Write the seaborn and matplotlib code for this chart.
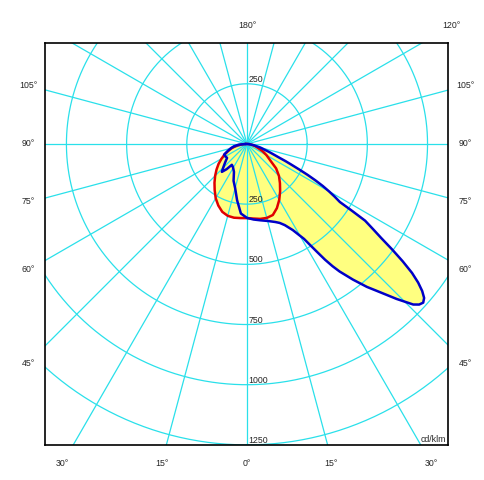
import numpy as np
import pandas as pd
import matplotlib
matplotlib.use("Agg")
import matplotlib.pyplot as plt
import seaborn as sns

# gamma angle (deg, 0 = straight down, + = right) and intensity in cd/klm
red_angles = [-90, -85, -80, -75, -70, -65, -60, -55, -50, -45, -40, -35, -30, -25, -20, -15, -10, -5,
              0, 5, 10, 15, 20, 25, 30, 35, 40, 45, 50, 55, 60, 65, 70, 75, 80, 85, 90]
red_values = [5, 25, 45, 64, 82, 102, 122, 144, 165, 187, 210, 234, 260, 282, 300, 309, 311, 309,
              308, 311, 316, 318, 314, 294, 268, 240, 213, 188, 158, 117, 94, 72, 49, 35, 22, 10, 3]

blue_angles = [-90, -85, -80, -75, -70, -65, -60, -55, -50, -45, -42, -39, -36, -33, -30, -25, -20, -15,
               -10, -5, 0, 5, 10, 15, 20, 22.5, 25, 28, 30, 31, 32, 33, 34, 35, 36, 38, 40, 42, 44,
               46, 47, 48, 49, 50, 51, 52, 53, 54, 55, 56, 57, 57.5, 58, 59, 60, 61, 62, 63, 64,
               65, 66, 67, 70, 72, 75, 80, 85, 90]
blue_values = [5, 35, 55, 70, 85, 105, 103, 101, 118, 140, 156, 135, 107, 110, 115, 128, 163, 190,
               237, 290, 307, 315, 322, 331, 345, 355, 372, 405, 440, 460, 495, 535, 580, 620, 655,
               715, 775, 830, 895, 960, 978, 985, 975, 950, 915, 870, 810, 745, 680, 630, 585, 520,
               455, 425, 393, 360, 322, 282, 240, 204, 175, 146, 100, 77, 58, 28, 10, 3]

ring_values = [250, 500, 750, 1000, 1250]
spoke_angles = np.arange(0, 360, 15)
top_labels = ["180°", "120°"]
side_labels = ["105°", "90°", "75°", "60°", "45°"]
bottom_labels = ["30°", "15°", "0°", "15°", "30°"]
unit_label = "cd/klm"


def to_xy(angles, values):
    a = np.radians(angles)
    v = np.asarray(values, dtype=float)
    df = pd.DataFrame({"x": v * np.sin(a), "y": -v * np.cos(a)})
    return pd.concat([df, df.iloc[:1]], ignore_index=True)


red = to_xy(red_angles, red_values)
blue = to_xy(blue_angles, blue_values)

sns.set_style("white")
plt.rcParams["font.family"] = ["Liberation Sans", "DejaVu Sans"]

W, H = 484, 480
fig = plt.figure(figsize=(W / 100, H / 100), dpi=100)
ax = fig.add_axes([45 / W, 1 - 445 / H, 403 / W, 402 / H])
ax.set_xlim(-839, 835)
ax.set_ylim(-1250, 419)
ax.set_aspect("equal")
ax.set_xticks([])
ax.set_yticks([])
for s in ax.spines.values():
    s.set_color("black")
    s.set_linewidth(1.2)
    s.set_zorder(10)

cyan = "#2ae0ea"
t = np.linspace(0, 2 * np.pi, 400)
for r in ring_values:
    ax.plot(r * np.cos(t), r * np.sin(t), color=cyan, lw=0.9, zorder=2)
for a in np.radians(spoke_angles):
    ax.plot([0, 2500 * np.sin(a)], [0, -2500 * np.cos(a)], color=cyan, lw=0.9, zorder=2)

ax.fill(blue["x"], blue["y"], color="#ffff80", lw=0, zorder=1)
ax.fill(red["x"], red["y"], color="#ffff80", lw=0, zorder=1)
sns.lineplot(data=red, x="x", y="y", sort=False, estimator=None, color="#e00000", lw=1.8,
             solid_joinstyle="round", ax=ax, zorder=3)
sns.lineplot(data=blue, x="x", y="y", sort=False, estimator=None, color="#0000c8", lw=1.8,
             solid_joinstyle="round", ax=ax, zorder=4)
ax.set_xlabel("")
ax.set_ylabel("")

fs = 6.3
ax.text(6, ring_values[0], str(ring_values[0]), fontsize=fs, ha="left", va="bottom", zorder=5)
for r in ring_values:
    ax.text(6, -r, str(r), fontsize=fs, ha="left", va="bottom", zorder=5)
ax.text(825, -1245, unit_label, fontsize=fs, ha="right", va="bottom", zorder=5)


def ftext(x, y, s):
    fig.text(x / W, 1 - y / H, s, fontsize=fs, ha="center", va="center")


ftext(247, 25, top_labels[0])
ftext(451, 25, top_labels[1])
for lab, y in zip(side_labels, [85, 144, 202, 270, 363]):
    ftext(28, y, lab)
    ftext(465, y, lab)
for lab, x in zip(bottom_labels, [62, 162, 247, 331, 431]):
    ftext(x, 463, lab)

fig.savefig("out.png", dpi=100)
